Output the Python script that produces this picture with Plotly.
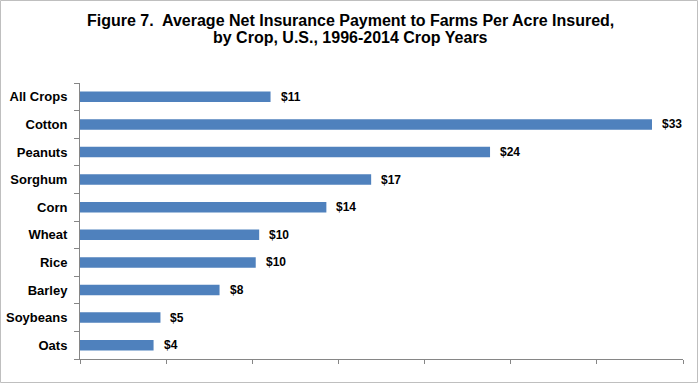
import plotly.graph_objects as go

crops = ["All Crops", "Cotton", "Peanuts", "Sorghum", "Corn", "Wheat", "Rice", "Barley", "Soybeans", "Oats"]
payments = [11.06, 33.2, 23.8, 16.9, 14.3, 10.4, 10.2, 8.1, 4.67, 4.27]
value_labels = ["$11", "$33", "$24", "$17", "$14", "$10", "$10", "$8", "$5", "$4"]
title_lines = ["Figure 7.  Average Net Insurance Payment to Farms Per Acre Insured,",
               "by Crop, U.S., 1996-2014 Crop Years"]

FONT = "Liberation Sans, Arial, sans-serif"
AXIS = "#868686"

fig = go.Figure()
fig.add_trace(go.Bar(
    x=payments, y=crops, orientation="h",
    marker=dict(color="#4F81BD", line=dict(width=0)),
    width=0.38, hoverinfo="x+y",
))

for v, c, t in zip(payments, crops, value_labels):
    fig.add_annotation(x=v, y=c, text="<b>" + t + "</b>", showarrow=False, xanchor="left",
                       yanchor="middle", xshift=8,
                       font=dict(family=FONT, size=12, color="black"))

L, R, T, B = 80, 17, 83, 25
W, H = 700, 384
pw, ph = W - L - R, H - T - B

def px_to_paper_x(p):
    return (p - L) / pw

def px_to_paper_y(p):
    return (H - B - p) / ph

for line, ypx in zip(title_lines, [21, 37.5]):
    fig.add_annotation(xref="paper", yref="paper", x=px_to_paper_x(350), y=px_to_paper_y(ypx),
                       text="<b>" + line + "</b>", showarrow=False, xanchor="center",
                       yanchor="middle", font=dict(family=FONT, size=16, color="black"))

fig.add_shape(type="rect", xref="paper", yref="paper",
              x0=px_to_paper_x(0.5), x1=px_to_paper_x(697.5),
              y0=px_to_paper_y(382.5), y1=px_to_paper_y(0.5),
              line=dict(color="#BFBFBF", width=1), fillcolor="rgba(0,0,0,0)", layer="above")

fig.update_layout(
    width=W, height=H,
    margin=dict(l=L, r=R, t=T, b=B, pad=0, autoexpand=False),
    plot_bgcolor="white", paper_bgcolor="white",
    showlegend=False,
    xaxis=dict(range=[0, 35], dtick=5, tick0=0, showgrid=False, zeroline=False,
               showline=True, linecolor=AXIS, linewidth=1,
               ticks="outside", ticklen=4, tickcolor=AXIS, tickwidth=1,
               showticklabels=False, fixedrange=True, automargin=False),
    yaxis=dict(type="category", autorange="reversed", showgrid=False, zeroline=False,
               showline=True, linecolor=AXIS, linewidth=1,
               ticks="outside", tickson="boundaries", ticklen=5, tickcolor=AXIS, tickwidth=1,
               tickfont=dict(family=FONT, size=13, color="black"),
               ticklabelstandoff=9, fixedrange=True, automargin=False,
               tickvals=crops, ticktext=["<b>" + c + "</b>" for c in crops]),
)

fig.write_html("out.html", config={"displayModeBar": False},
               post_script="document.body.style.margin='0px';document.body.style.overflow='hidden';")
